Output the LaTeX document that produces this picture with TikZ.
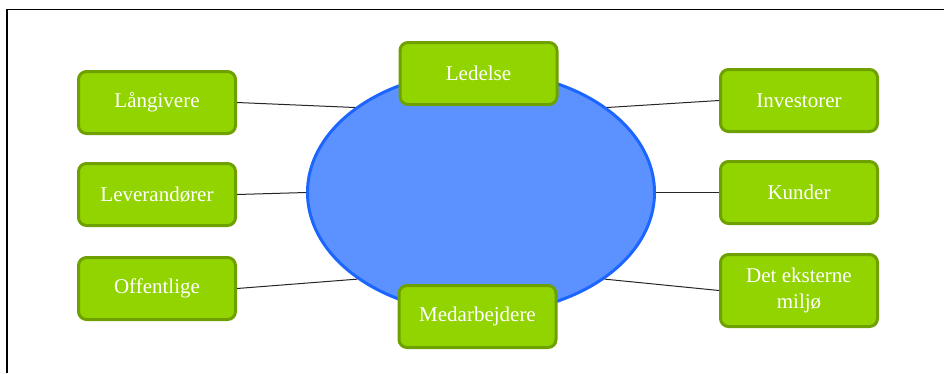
\documentclass[tikz,border=0pt]{standalone}
\usepackage{fontspec}
\setmainfont{Liberation Serif}
\usetikzlibrary{shapes.geometric}
\definecolor{boxfill}{RGB}{146,212,0}
\definecolor{boxedge}{RGB}{110,160,0}
\definecolor{ovalfill}{RGB}{92,146,255}
\definecolor{ovaledge}{RGB}{28,102,255}
\tikzset{
  stakeholder/.style={draw=boxedge, fill=boxfill, line width=3pt,
    rounded corners=8pt, minimum width=157pt, minimum height=62pt,
    inner sep=0pt, text=white, align=center,
    font=\fontsize{21}{26}\selectfont},
  link/.style={draw=black!85, line width=1pt}
}
\begin{document}
\begin{tikzpicture}[x=1pt,y=-1pt]
  \useasboundingbox (0,0) rectangle (944,373);
  % frame
  \draw[line width=1.6pt] (7,373) -- (7,9.5) -- (944,9.5);
  % central company oval
  \node[ellipse, draw=ovaledge, fill=ovalfill, line width=3pt,
        minimum width=347pt, minimum height=242pt, inner sep=0pt]
        (firm) at (481,192.5) {};
  % stakeholders
  \node[stakeholder] (laan) at (157,102.5) {Långivere};
  \node[stakeholder] (lev)  at (157,194.5) {Leverandører};
  \node[stakeholder] (off)  at (157,288.5) {Offentlige};
  \node[stakeholder] (inv)  at (799,100.5) {Investorer};
  \node[stakeholder] (kun)  at (799,192.5) {Kunder};
  \node[stakeholder, minimum height=72pt] (milj) at (799,290.5) {Det eksterne\\miljø};
  \node[stakeholder] (led)  at (478.5,73.5) {Ledelse};
  \node[stakeholder] (med)  at (477.5,316.5) {Medarbejdere};
  % connectors
  \draw[link] (laan.east) -- (firm.146);
  \draw[link] (lev.east)  -- (firm.west);
  \draw[link] (off.east)  -- (firm.215);
  \draw[link] (inv.west)  -- (firm.34);
  \draw[link] (kun.west)  -- (firm.east);
  \draw[link] (milj.west) -- (firm.325);
\end{tikzpicture}
\end{document}
